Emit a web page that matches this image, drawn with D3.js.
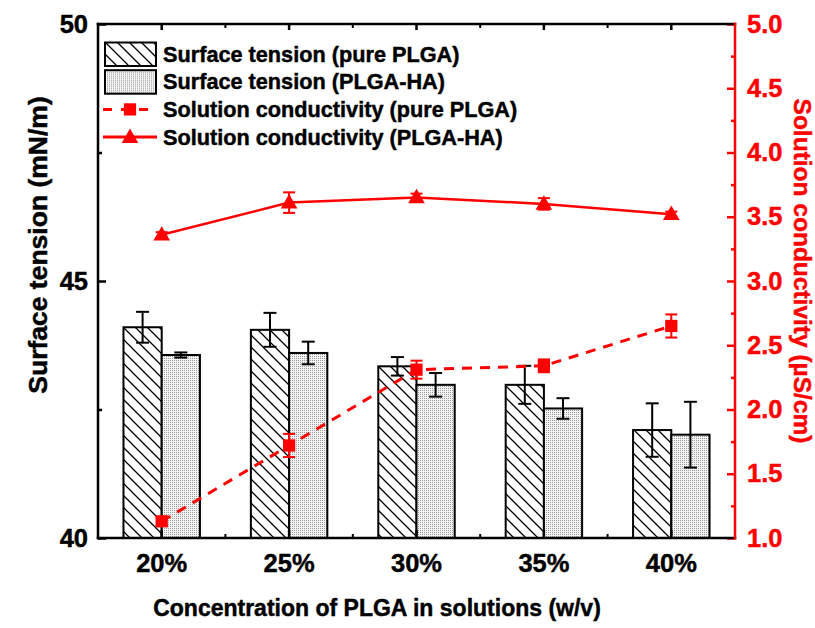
<!DOCTYPE html>
<html>
<head>
<meta charset="utf-8">
<script src="https://cdn.jsdelivr.net/npm/d3@7/dist/d3.min.js"></script>
<style>
  body { margin: 0; background: #fff; }
  svg { display: block; font-family: Arial, "Liberation Sans", sans-serif; font-weight: bold; }
  /* the original text is a bit heavier than Liberation bold */
  svg text { stroke: currentColor; stroke-width: 0.45px; }
</style>
</head>
<body>
<div id="chart"></div>
<script>
// concentrations on the x axis
var categories = ['20%', '25%', '30%', '35%', '40%'];

// surface tension (mN/m), left axis
var tensionPure = [44.10, 44.05, 43.34, 42.98, 42.10];
var tensionPureErr = [0.30, 0.33, 0.18, 0.37, 0.52];
var tensionHA = [43.56, 43.60, 42.98, 42.52, 42.01];
var tensionHAErr = [0.05, 0.22, 0.23, 0.20, 0.64];

// solution conductivity (uS/cm), right axis
var condPure = [1.13, 1.72, 2.31, 2.34, 2.65];
var condPureErr = [0.03, 0.09, 0.07, 0.05, 0.09];
var condHA = [3.36, 3.61, 3.65, 3.60, 3.52];
var condHAErr = [0.02, 0.08, 0.03, 0.045, 0.02];

var leftTicks = [40, 45, 50];
var leftMinor = [42.5, 47.5];
var rightTicks = [1.0, 1.5, 2.0, 2.5, 3.0, 3.5, 4.0, 4.5, 5.0];
var rightMinor = [1.25, 1.75, 2.25, 2.75, 3.25, 3.75, 4.25, 4.75];

var legendItems = [
  { label: 'Surface tension (pure PLGA)', kind: 'hatch' },
  { label: 'Surface tension (PLGA-HA)', kind: 'dots' },
  { label: 'Solution conductivity (pure PLGA)', kind: 'square' },
  { label: 'Solution conductivity (PLGA-HA)', kind: 'triangle' }
];

var width = 815, height = 628;
var plot = { left: 98, right: 735, top: 24, bottom: 538 };
var red = '#ff0000';

var svg = d3.select('#chart').append('svg')
  .attr('width', width)
  .attr('height', height);

// fill patterns for the two bar series
var defs = svg.append('defs');
var hatch = defs.append('pattern')
  .attr('id', 'hatch')
  .attr('patternUnits', 'userSpaceOnUse')
  .attr('width', 12)
  .attr('height', 12);
hatch.append('rect').attr('width', 12).attr('height', 12).attr('fill', '#fff');
hatch.append('path')
  .attr('d', 'M-3,9L3,15M0,0L12,12M9,-3L15,3')
  .attr('stroke', '#000')
  .attr('stroke-width', 1.3);

var dots = defs.append('pattern')
  .attr('id', 'dots')
  .attr('patternUnits', 'userSpaceOnUse')
  .attr('width', 2)
  .attr('height', 2);
dots.append('rect').attr('width', 2).attr('height', 2).attr('fill', '#f4f4f4');
dots.append('rect').attr('width', 1).attr('height', 1).attr('fill', '#9a9a9a');

// scales
var x = d3.scaleBand()
  .domain(categories)
  .range([plot.left, plot.right])
  .padding(0);
var yLeft = d3.scaleLinear().domain([40, 50]).range([plot.bottom, plot.top]);
var yRight = d3.scaleLinear().domain([1, 5]).range([plot.bottom, plot.top]);

function cx(c) { return x(c) + x.bandwidth() / 2; }
var barW = x.bandwidth() * 0.3;

// bars
var bars = svg.append('g').attr('class', 'bars');
bars.selectAll('rect.pure')
  .data(categories)
  .enter().append('rect')
  .attr('class', 'pure')
  .attr('x', function (d) { return cx(d) - barW; })
  .attr('y', function (d, i) { return yLeft(tensionPure[i]); })
  .attr('width', barW)
  .attr('height', function (d, i) { return yLeft(40) - yLeft(tensionPure[i]); })
  .attr('fill', 'url(#hatch)')
  .attr('stroke', '#000')
  .attr('stroke-width', 2);

bars.selectAll('rect.ha')
  .data(categories)
  .enter().append('rect')
  .attr('class', 'ha')
  .attr('x', function (d) { return cx(d); })
  .attr('y', function (d, i) { return yLeft(tensionHA[i]); })
  .attr('width', barW)
  .attr('height', function (d, i) { return yLeft(40) - yLeft(tensionHA[i]); })
  .attr('fill', 'url(#dots)')
  .attr('stroke', '#000')
  .attr('stroke-width', 2);

// draws vertical error bars with caps
function errorBars(g, xs, vals, errs, scale, color, capW, sw) {
  var sel = g.selectAll(null).data(vals).enter().append('g')
    .attr('stroke', color)
    .attr('stroke-width', sw);
  sel.append('line')
    .attr('x1', function (d, i) { return xs[i]; })
    .attr('x2', function (d, i) { return xs[i]; })
    .attr('y1', function (d, i) { return scale(d + errs[i]); })
    .attr('y2', function (d, i) { return scale(d - errs[i]); });
  [1, -1].forEach(function (s) {
    sel.append('line')
      .attr('x1', function (d, i) { return xs[i] - capW / 2; })
      .attr('x2', function (d, i) { return xs[i] + capW / 2; })
      .attr('y1', function (d, i) { return scale(d + s * errs[i]); })
      .attr('y2', function (d, i) { return scale(d + s * errs[i]); });
  });
}

var errG = svg.append('g');
errorBars(errG, categories.map(function (c) { return cx(c) - barW / 2; }), tensionPure, tensionPureErr, yLeft, '#000', 13, 2);
errorBars(errG, categories.map(function (c) { return cx(c) + barW / 2; }), tensionHA, tensionHAErr, yLeft, '#000', 13, 2);

// conductivity lines
var centers = categories.map(cx);
var line = d3.line()
  .x(function (d, i) { return centers[i]; })
  .y(function (d) { return yRight(d); });

svg.append('path')
  .datum(condPure)
  .attr('d', line)
  .attr('fill', 'none')
  .attr('stroke', red)
  .attr('stroke-width', 3)
  .attr('stroke-dasharray', '10,8');

svg.append('path')
  .datum(condHA)
  .attr('d', line)
  .attr('fill', 'none')
  .attr('stroke', red)
  .attr('stroke-width', 2.5);

errorBars(errG.append('g'), centers, condPure, condPureErr, yRight, red, 12, 2);
errorBars(errG.append('g'), centers, condHA, condHAErr, yRight, red, 12, 2);

var square = d3.symbol().type(d3.symbolSquare).size(150);
var triangle = d3.symbol().type(d3.symbolTriangle).size(120);

svg.selectAll('path.sq')
  .data(condPure)
  .enter().append('path')
  .attr('class', 'sq')
  .attr('d', square)
  .attr('transform', function (d, i) { return 'translate(' + centers[i] + ',' + yRight(d) + ')'; })
  .attr('fill', red);

svg.selectAll('path.tri')
  .data(condHA)
  .enter().append('path')
  .attr('class', 'tri')
  .attr('d', triangle)
  .attr('transform', function (d, i) { return 'translate(' + centers[i] + ',' + (yRight(d) + 1) + ')'; })
  .attr('fill', red);

// axes - ticks point inward like the original
var fontTick = '25.5px';

svg.append('g').attr('transform', 'translate(' + plot.left + ',0)')
  .call(d3.axisLeft(yLeft).tickValues(leftTicks).tickSize(-8).tickPadding(10).tickFormat(d3.format('d')));
svg.append('g').attr('transform', 'translate(' + plot.left + ',0)')
  .call(d3.axisLeft(yLeft).tickValues(leftMinor).tickSize(-4).tickFormat(''));

svg.append('g').attr('transform', 'translate(0,' + plot.bottom + ')')
  .call(d3.axisBottom(x).tickSize(-8).tickPadding(16));
svg.append('g').attr('transform', 'translate(0,' + plot.top + ')')
  .call(d3.axisTop(x).tickSize(-6).tickFormat(''));

// minor ticks on the category boundaries
var bounds = categories.slice(1);
[[plot.bottom, -4], [plot.top, 4]].forEach(function (p) {
  svg.append('g').selectAll('line')
    .data(bounds)
    .enter().append('line')
    .attr('x1', function (d) { return x(d); })
    .attr('x2', function (d) { return x(d); })
    .attr('y1', p[0])
    .attr('y2', p[0] + p[1])
    .attr('stroke', '#000')
    .attr('stroke-width', 2);
});

var gRight = svg.append('g').attr('transform', 'translate(' + plot.right + ',0)')
  .call(d3.axisRight(yRight).tickValues(rightTicks).tickSize(-8).tickPadding(12).tickFormat(d3.format('.1f')));
var gRightMinor = svg.append('g').attr('transform', 'translate(' + plot.right + ',0)')
  .call(d3.axisRight(yRight).tickValues(rightMinor).tickSize(-4).tickFormat(''));

svg.selectAll('.domain').remove();
svg.selectAll('.tick line').attr('stroke-width', 2.5);
svg.selectAll('.tick text')
  .style('font-size', fontTick)
  .style('font-weight', 'bold')
  .style('font-family', 'Arial, "Liberation Sans", sans-serif')
  .attr('fill', '#000');
gRight.selectAll('.tick line').attr('stroke', red);
gRight.selectAll('.tick text').attr('fill', red).style('color', red);
gRightMinor.selectAll('.tick line').attr('stroke', red);

// frame
var frame = svg.append('g').attr('stroke-width', 2.5).attr('stroke-linecap', 'square');
frame.append('line').attr('x1', plot.left).attr('x2', plot.right).attr('y1', plot.top).attr('y2', plot.top).attr('stroke', '#000');
frame.append('line').attr('x1', plot.left).attr('x2', plot.right).attr('y1', plot.bottom).attr('y2', plot.bottom).attr('stroke', '#000');
frame.append('line').attr('x1', plot.left).attr('x2', plot.left).attr('y1', plot.top).attr('y2', plot.bottom).attr('stroke', '#000');
frame.append('line').attr('x1', plot.right).attr('x2', plot.right).attr('y1', plot.top).attr('y2', plot.bottom).attr('stroke', red);

// axis titles
svg.append('text')
  .attr('transform', 'translate(47,245) rotate(-90)')
  .attr('text-anchor', 'middle')
  .style('font-size', '26.5px')
  .text('Surface tension (mN/m)');

svg.append('text')
  .attr('transform', 'translate(794,271) rotate(90)')
  .attr('text-anchor', 'middle')
  .style('font-size', '24.5px')
  .attr('fill', red)
  .style('color', red)
  .text('Solution conductivity (\u00b5S/cm)');

svg.append('text')
  .attr('x', 377)
  .attr('y', 616)
  .attr('text-anchor', 'middle')
  .style('font-size', '23px')
  .text('Concentration of PLGA in solutions (w/v)');

// legend
var legend = svg.append('g').attr('transform', 'translate(105,54)');
var rowH = 27.7;
var rows = legend.selectAll('g.row')
  .data(legendItems)
  .enter().append('g')
  .attr('class', 'row')
  .attr('transform', function (d, i) { return 'translate(0,' + (i * rowH) + ')'; });

rows.each(function (d) {
  var g = d3.select(this);
  if (d.kind === 'hatch' || d.kind === 'dots') {
    g.append('rect')
      .attr('x', 0).attr('y', -11.5)
      .attr('width', 51).attr('height', 23.5)
      .attr('fill', 'url(#' + d.kind + ')')
      .attr('stroke', '#000')
      .attr('stroke-width', 2);
  } else if (d.kind === 'square') {
    g.append('line').attr('x1', -2).attr('x2', 43).attr('y1', 0).attr('y2', 0)
      .attr('stroke', red).attr('stroke-width', 3).attr('stroke-dasharray', '9,9');
    g.append('path').attr('d', square).attr('transform', 'translate(25,0)').attr('fill', red);
  } else {
    g.append('line').attr('x1', -2).attr('x2', 52).attr('y1', 0).attr('y2', 0)
      .attr('stroke', red).attr('stroke-width', 3);
    g.append('path').attr('d', triangle).attr('transform', 'translate(25,1)').attr('fill', red);
  }
  g.append('text')
    .attr('x', 58)
    .attr('y', 7.5)
    .style('font-size', '21.7px')
    .text(d.label);
});
</script>
</body>
</html>
